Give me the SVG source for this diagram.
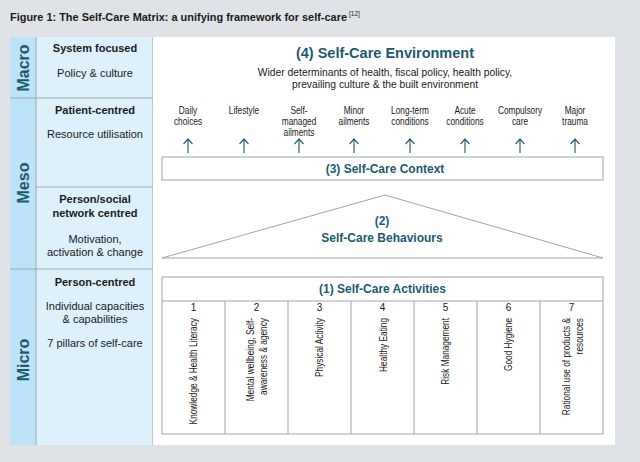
<svg xmlns="http://www.w3.org/2000/svg" width="640" height="462" viewBox="0 0 640 462">
<defs>
<style>
.t{font-family:"Liberation Sans",Arial,sans-serif;fill:#1a1a1a}
.b{font-weight:bold}
.c{text-anchor:middle}
.h{font-family:"Liberation Sans",Arial,sans-serif;font-weight:bold;fill:#1d5a70;text-anchor:middle}
.lv{font-family:"Liberation Sans",Arial,sans-serif;font-weight:bold;fill:#1d5a70;font-size:16px;text-anchor:middle}
.n{font-family:"Liberation Sans",Arial,sans-serif;font-size:10px;fill:#1a1a1a}
.ln{stroke:#9ea6ad;stroke-width:1;fill:none}
.ar{stroke:#2a6478;stroke-width:1.2;fill:none}
</style>
</defs>
<rect x="0" y="0" width="640" height="462" fill="#dfe3e7"/>
<text class="t b" x="10" y="21" font-size="10.5" textLength="337" lengthAdjust="spacingAndGlyphs">Figure 1: The Self-Care Matrix: a unifying framework for self-care</text>
<text class="t" x="349" y="16" font-size="6.5">[12]</text>

<g id="left-panel">
<rect x="10" y="37" width="26" height="408" fill="#bde3f8"/>
<rect x="36" y="37" width="117" height="408" fill="#dcf1fc"/>
<line class="ln" x1="36" y1="37" x2="36" y2="445"/>
<line class="ln" x1="153" y1="37" x2="153" y2="445"/>
<line class="ln" x1="10" y1="98" x2="153" y2="98"/>
<line class="ln" x1="36" y1="187" x2="153" y2="187"/>
<line class="ln" x1="10" y1="269" x2="153" y2="269"/>
</g>

<g id="level-macro">
<text class="lv" transform="translate(29,68) rotate(-90)">Macro</text>
<text class="t b c" x="95" y="52" font-size="11">System focused</text>
<text class="t c" x="95" y="77" font-size="11">Policy &amp; culture</text>
</g>
<g id="level-meso">
<text class="lv" transform="translate(29,183) rotate(-90)">Meso</text>
<text class="t b c" x="95" y="114" font-size="11">Patient-centred</text>
<text class="t c" x="95" y="138" font-size="11">Resource utilisation</text>
<text class="t b c" x="95" y="203" font-size="11">Person/social</text>
<text class="t b c" x="95" y="217" font-size="11">network centred</text>
<text class="t c" x="95" y="243" font-size="11">Motivation,</text>
<text class="t c" x="95" y="256" font-size="11">activation &amp; change</text>
</g>
<g id="level-micro">
<text class="lv" transform="translate(29,360) rotate(-90)">Micro</text>
<text class="t b c" x="95" y="286" font-size="11">Person-centred</text>
<text class="t c" x="95" y="310" font-size="11">Individual capacities</text>
<text class="t c" x="95" y="323" font-size="11">&amp; capabilities</text>
<text class="t c" x="95" y="347" font-size="11">7 pillars of self-care</text>
</g>

<rect x="153" y="37" width="462" height="408" fill="#ffffff"/>

<g id="environment">
<text class="h" x="385" y="58" font-size="14.5">(4) Self-Care Environment</text>
<text class="t c" x="385" y="76" font-size="10.3">Wider determinants of health, fiscal policy, health policy,</text>
<text class="t c" x="385" y="88" font-size="10.3">prevailing culture &amp; the built environment</text>
</g>

<g id="domains" class="n" text-anchor="middle">
<text transform="translate(188,0) scale(0.83,1)"><tspan x="0" y="114">Daily</tspan><tspan x="0" y="125">choices</tspan></text>
<text transform="translate(244,0) scale(0.83,1)"><tspan x="0" y="114">Lifestyle</tspan></text>
<text transform="translate(299,0) scale(0.83,1)"><tspan x="0" y="114">Self-</tspan><tspan x="0" y="125">managed</tspan><tspan x="0" y="136">ailments</tspan></text>
<text transform="translate(354,0) scale(0.83,1)"><tspan x="0" y="114">Minor</tspan><tspan x="0" y="125">ailments</tspan></text>
<text transform="translate(410,0) scale(0.83,1)"><tspan x="0" y="114">Long-term</tspan><tspan x="0" y="125">conditions</tspan></text>
<text transform="translate(465,0) scale(0.83,1)"><tspan x="0" y="114">Acute</tspan><tspan x="0" y="125">conditions</tspan></text>
<text transform="translate(520,0) scale(0.83,1)"><tspan x="0" y="114">Compulsory</tspan><tspan x="0" y="125">care</tspan></text>
<text transform="translate(575,0) scale(0.83,1)"><tspan x="0" y="114">Major</tspan><tspan x="0" y="125">trauma</tspan></text>
</g>

<g id="connectors">
<path class="ar" d="M188,153V139M183.5,144L188,139L192.5,144"/>
<path class="ar" d="M244,153V139M239.5,144L244,139L248.5,144"/>
<path class="ar" d="M299,153V139M294.5,144L299,139L303.5,144"/>
<path class="ar" d="M354,153V139M349.5,144L354,139L358.5,144"/>
<path class="ar" d="M410,153V139M405.5,144L410,139L414.5,144"/>
<path class="ar" d="M465,153V139M460.5,144L465,139L469.5,144"/>
<path class="ar" d="M520,153V139M515.5,144L520,139L524.5,144"/>
<path class="ar" d="M575,153V139M570.5,144L575,139L579.5,144"/>
</g>

<g id="context">
<rect class="ln" x="162" y="157" width="441" height="23"/>
<text class="h" x="385" y="173" font-size="12">(3) Self-Care Context</text>
</g>

<g id="behaviours">
<path class="ln" d="M162,258L385,195L603,258Z"/>
<text class="h" x="382" y="225" font-size="12">(2)</text>
<text class="h" x="382" y="242" font-size="12">Self-Care Behaviours</text>
</g>

<g id="activities">
<rect class="ln" x="162" y="277" width="441" height="157"/>
<line class="ln" x1="162" y1="301" x2="603" y2="301"/>
<line class="ln" x1="225" y1="301" x2="225" y2="434"/>
<line class="ln" x1="288" y1="301" x2="288" y2="434"/>
<line class="ln" x1="351" y1="301" x2="351" y2="434"/>
<line class="ln" x1="414" y1="301" x2="414" y2="434"/>
<line class="ln" x1="477" y1="301" x2="477" y2="434"/>
<line class="ln" x1="540" y1="301" x2="540" y2="434"/>
<text class="h" x="382.5" y="293" font-size="12">(1) Self-Care Activities</text>
<g class="n" text-anchor="middle">
<text x="193.5" y="311">1</text>
<text x="256.5" y="311">2</text>
<text x="319.5" y="311">3</text>
<text x="382.5" y="311">4</text>
<text x="445.5" y="311">5</text>
<text x="508.5" y="311">6</text>
<text x="571.5" y="311">7</text>
</g>
<g class="n" text-anchor="end">
<text transform="translate(197,318) rotate(-90) scale(0.83,1)">Knowledge &amp; Health Literacy</text>
<text transform="translate(253.5,318) rotate(-90) scale(0.83,1)">Mental wellbeing, Self-</text>
<text transform="translate(266.5,318) rotate(-90) scale(0.83,1)">awareness &amp; agency</text>
<text transform="translate(322.5,318) rotate(-90) scale(0.83,1)">Physical Activity</text>
<text transform="translate(386.5,318) rotate(-90) scale(0.83,1)">Healthy Eating</text>
<text transform="translate(448.5,318) rotate(-90) scale(0.83,1)">Risk Management</text>
<text transform="translate(511.5,318) rotate(-90) scale(0.83,1)">Good Hygiene</text>
<text transform="translate(570,318) rotate(-90) scale(0.83,1)">Rational use of products &amp;</text>
<text transform="translate(582.5,318) rotate(-90) scale(0.83,1)">resources</text>
</g>
</g>
</svg>
